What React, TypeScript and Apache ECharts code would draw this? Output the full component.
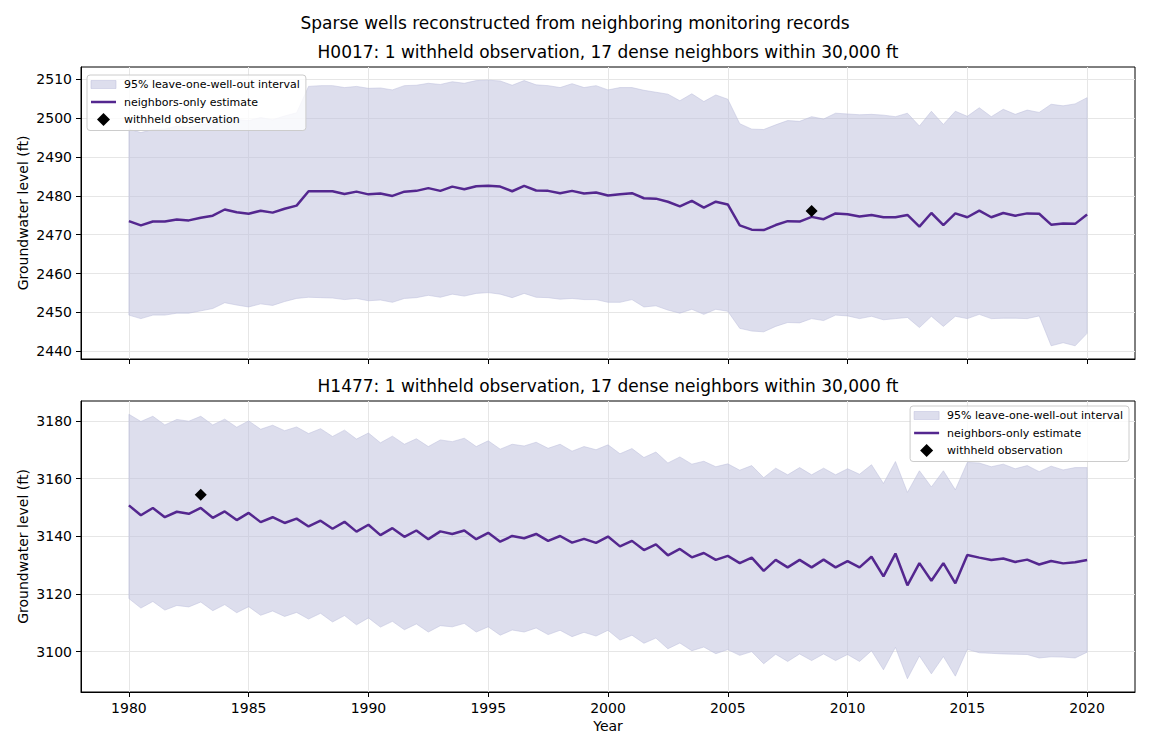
import React, { useEffect, useRef } from "react";
import * as echarts from "echarts";

// Half-yearly reconstruction dates
const YEARS = [
  1980, 1980.5, 1981, 1981.5, 1982, 1982.5, 1983, 1983.5, 1984, 1984.5,
  1985, 1985.5, 1986, 1986.5, 1987, 1987.5, 1988, 1988.5, 1989, 1989.5,
  1990, 1990.5, 1991, 1991.5, 1992, 1992.5, 1993, 1993.5, 1994, 1994.5,
  1995, 1995.5, 1996, 1996.5, 1997, 1997.5, 1998, 1998.5, 1999, 1999.5,
  2000, 2000.5, 2001, 2001.5, 2002, 2002.5, 2003, 2003.5, 2004, 2004.5,
  2005, 2005.5, 2006, 2006.5, 2007, 2007.5, 2008, 2008.5, 2009, 2009.5,
  2010, 2010.5, 2011, 2011.5, 2012, 2012.5, 2013, 2013.5, 2014, 2014.5,
  2015, 2015.5, 2016, 2016.5, 2017, 2017.5, 2018, 2018.5, 2019, 2019.5,
  2020,
];

// Well H0017
const H0017_EST = [
  2473.5, 2472.4, 2473.4, 2473.4, 2473.9, 2473.7, 2474.4, 2474.9, 2476.5, 2475.8,
  2475.4, 2476.2, 2475.7, 2476.7, 2477.5, 2481.2, 2481.2, 2481.2, 2480.5, 2481.1,
  2480.4, 2480.6, 2480.0, 2481.1, 2481.3, 2482.0, 2481.3, 2482.4, 2481.7, 2482.5,
  2482.6, 2482.4, 2481.2, 2482.6, 2481.4, 2481.3, 2480.7, 2481.3, 2480.6, 2480.9,
  2480.1, 2480.4, 2480.7, 2479.4, 2479.3, 2478.5, 2477.3, 2478.7, 2477.0, 2478.5,
  2477.8, 2472.4, 2471.3, 2471.2, 2472.5, 2473.5, 2473.4, 2474.6, 2474.0, 2475.5,
  2475.3, 2474.7, 2475.1, 2474.5, 2474.5, 2475.1, 2472.1, 2475.6, 2472.5, 2475.5,
  2474.5, 2476.2, 2474.5, 2475.6, 2474.9, 2475.5, 2475.4, 2472.6, 2472.9, 2472.8,
  2475.2,
];
const H0017_UPPER = [
  2497.2, 2496.3, 2497.1, 2497.2, 2498.0, 2497.6, 2498.4, 2498.8, 2500.5, 2499.7,
  2499.4, 2500.2, 2499.6, 2500.6, 2501.4, 2508.2, 2508.4, 2508.4, 2507.9, 2508.2,
  2507.7, 2507.8, 2507.3, 2508.4, 2508.5, 2509.0, 2508.7, 2509.4, 2509.0, 2509.7,
  2509.8, 2509.6, 2508.5, 2509.7, 2508.6, 2508.4, 2507.9, 2508.9, 2507.9, 2508.4,
  2507.3, 2507.9, 2507.9, 2507.2, 2506.7, 2506.2, 2504.5, 2506.3, 2504.3, 2506.0,
  2504.9, 2498.6, 2497.2, 2497.1, 2498.3, 2499.4, 2499.2, 2500.4, 2499.8, 2501.3,
  2501.1, 2500.9, 2501.0, 2500.8, 2500.4, 2501.3, 2498.0, 2501.8, 2498.4, 2501.8,
  2500.5, 2502.7, 2500.4, 2502.3, 2501.0, 2502.1, 2501.5, 2503.6, 2503.2, 2503.7,
  2505.3,
];
const H0017_LOWER = [
  2449.3, 2448.4, 2449.3, 2449.3, 2449.8, 2449.8, 2450.4, 2451.0, 2452.5, 2451.9,
  2451.4, 2452.2, 2451.8, 2452.8, 2453.6, 2453.9, 2453.8, 2453.7, 2453.3, 2453.6,
  2453.0, 2453.2, 2452.6, 2453.6, 2453.8, 2454.4, 2453.9, 2454.7, 2454.2, 2454.9,
  2455.1, 2454.7, 2453.8, 2454.9, 2453.9, 2453.8, 2453.4, 2453.6, 2453.3, 2453.3,
  2452.6, 2452.6, 2453.3, 2451.4, 2451.7, 2450.6, 2449.8, 2450.8, 2449.5, 2450.8,
  2450.3, 2445.9, 2445.2, 2445.0, 2446.4, 2447.4, 2447.3, 2448.4, 2447.9, 2449.3,
  2449.1, 2448.4, 2449.0, 2448.1, 2448.4, 2448.7, 2446.1, 2449.0, 2446.4, 2449.0,
  2448.4, 2449.5, 2448.4, 2448.5, 2448.5, 2448.4, 2449.1, 2441.4, 2442.2, 2441.4,
  2444.6,
];
const H0017_WITHHELD = [[2008.5, 2476.1]];

// Well H1477
const H1477_EST = [
  3150.7, 3147.3, 3149.8, 3146.6, 3148.5, 3147.8, 3149.8, 3146.4, 3148.6, 3145.6,
  3148.1, 3144.9, 3146.6, 3144.6, 3146.1, 3143.4, 3145.4, 3142.6, 3145.0, 3141.6,
  3144.0, 3140.4, 3142.8, 3139.8, 3142.0, 3139.0, 3141.7, 3140.8, 3142.0, 3139.0,
  3141.2, 3138.1, 3140.1, 3139.3, 3140.8, 3138.4, 3140.1, 3137.8, 3139.1, 3137.7,
  3139.9, 3136.5, 3138.4, 3135.2, 3137.2, 3133.4, 3135.6, 3132.7, 3134.2, 3131.8,
  3133.2, 3130.7, 3132.6, 3128.0, 3131.8, 3129.2, 3131.8, 3129.2, 3131.9, 3129.2,
  3131.4, 3129.2, 3132.9, 3126.1, 3134.0, 3123.0, 3130.7, 3124.6, 3130.7, 3123.7,
  3133.5, 3132.6, 3131.8, 3132.3, 3131.1, 3131.9, 3130.2, 3131.4, 3130.6, 3131.0,
  3131.8,
];
const H1477_UPPER = [
  3182.3, 3179.8, 3181.6, 3178.6, 3180.5, 3179.9, 3181.6, 3178.6, 3180.6, 3177.8,
  3180.0, 3177.1, 3178.5, 3176.6, 3177.9, 3175.6, 3177.3, 3174.6, 3176.8, 3173.7,
  3175.8, 3172.4, 3174.7, 3171.9, 3173.8, 3171.1, 3173.4, 3172.8, 3174.0, 3171.1,
  3173.1, 3170.2, 3171.9, 3171.3, 3172.6, 3170.5, 3171.9, 3169.5, 3171.1, 3170.0,
  3171.7, 3168.6, 3170.4, 3167.3, 3169.2, 3165.4, 3167.5, 3165.0, 3166.0, 3164.1,
  3165.1, 3162.9, 3164.5, 3160.3, 3163.6, 3161.3, 3163.8, 3161.3, 3163.6, 3161.3,
  3163.4, 3161.5, 3164.8, 3158.3, 3165.9, 3155.2, 3162.7, 3157.1, 3162.7, 3156.1,
  3165.6, 3165.4, 3164.1, 3165.0, 3163.4, 3164.5, 3162.4, 3164.3, 3163.0, 3163.8,
  3163.8,
];
const H1477_LOWER = [
  3118.4, 3115.1, 3117.4, 3114.4, 3116.0, 3115.5, 3117.2, 3114.2, 3116.3, 3113.5,
  3115.6, 3112.6, 3114.1, 3112.2, 3113.6, 3111.3, 3113.3, 3110.3, 3112.5, 3109.3,
  3111.7, 3108.5, 3110.5, 3107.6, 3109.6, 3106.8, 3109.0, 3108.6, 3109.8, 3106.8,
  3108.6, 3105.7, 3107.5, 3106.8, 3108.2, 3105.9, 3107.4, 3105.2, 3106.7, 3105.4,
  3107.4, 3104.0, 3105.7, 3102.9, 3104.7, 3101.0, 3103.0, 3100.3, 3101.6, 3099.3,
  3100.7, 3098.7, 3100.0, 3095.8, 3099.1, 3096.6, 3099.2, 3096.9, 3099.2, 3096.9,
  3099.0, 3096.6, 3100.3, 3093.7, 3101.5, 3090.6, 3098.5, 3092.3, 3098.3, 3091.5,
  3100.8, 3099.6, 3099.4, 3099.2, 3099.1, 3099.0, 3097.8, 3098.2, 3098.1, 3097.8,
  3099.8,
];
const H1477_WITHHELD = [[1983.0, 3154.4]];

// Tick labels
const X_TICKS = [1980, 1985, 1990, 1995, 2000, 2005, 2010, 2015, 2020];
const H0017_Y_TICKS = [2440, 2450, 2460, 2470, 2480, 2490, 2500, 2510];
const H1477_Y_TICKS = [3100, 3120, 3140, 3160, 3180];

const SUPTITLE = "Sparse wells reconstructed from neighboring monitoring records";
const H0017_TITLE = "H0017: 1 withheld observation, 17 dense neighbors within 30,000 ft";
const H1477_TITLE = "H1477: 1 withheld observation, 17 dense neighbors within 30,000 ft";

const BAND_NAME = "95% leave-one-well-out interval";
const EST_NAME = "neighbors-only estimate";
const OBS_NAME = "withheld observation";

const FONT = "DejaVu Sans";
const PURPLE = "#54278f";
const BAND = "rgba(188,189,220,0.5)";
const GRID_LINE = "#e6e6e6";

// Legend handles (paths keep their aspect inside the 25x13 icon box)
const ICON_PATCH = "path://M0,0 L25,0 L25,8 L0,8 Z";
const ICON_LINE = "path://M0,0 L25,0 L25,2.5 L0,2.5 Z";
const ICON_DIAMOND = "path://M6.5,0 L13,6.5 L6.5,13 L0,6.5 Z";

const plain = (v: number) => String(v);

function bandSeries(idx: number, lower: number[], upper: number[]) {
  return {
    type: "custom",
    name: BAND_NAME,
    xAxisIndex: idx,
    yAxisIndex: idx,
    clip: true,
    z: 1,
    itemStyle: { color: BAND },
    encode: { x: 0, y: [1, 2] },
    data: YEARS.map((yr, i) => [yr, lower[i], upper[i]]),
    renderItem: (params: any, api: any) => {
      if (params.dataIndex !== 0) return null;
      const pts: number[][] = [];
      for (let i = 0; i < YEARS.length; i++) pts.push(api.coord([YEARS[i], upper[i]]));
      for (let i = YEARS.length - 1; i >= 0; i--) pts.push(api.coord([YEARS[i], lower[i]]));
      return {
        type: "polygon",
        shape: { points: pts },
        style: { fill: BAND, stroke: BAND, lineWidth: 1 },
      };
    },
  };
}

function xAxisFor(idx: number, showLabels: boolean) {
  return {
    type: "value",
    gridIndex: idx,
    min: 1978,
    max: 2022,
    minInterval: 5,
    maxInterval: 5,
    splitNumber: 9,
    name: showLabels ? "Year" : "",
    nameLocation: "middle",
    nameGap: 27,
    nameMoveOverlap: false,
    nameTextStyle: { fontFamily: FONT, fontSize: 14, color: "#000" },
    axisLine: { show: true, onZero: false, lineStyle: { color: "#000", width: 1 } },
    axisTick: { show: true, length: 5, lineStyle: { color: "#000" }, customValues: X_TICKS },
    axisLabel: {
      show: showLabels,
      customValues: X_TICKS,
      formatter: plain,
      fontFamily: FONT,
      fontSize: 14,
      color: "#000",
      margin: 9,
    },
    splitLine: { show: true, lineStyle: { color: GRID_LINE, width: 1 } },
  };
}

function yAxisFor(idx: number, min: number, max: number, step: number, ticks: number[]) {
  return {
    type: "value",
    gridIndex: idx,
    min,
    max,
    minInterval: step,
    maxInterval: step,
    splitNumber: ticks.length,
    name: "Groundwater level (ft)",
    nameLocation: "middle",
    nameGap: 51,
    nameMoveOverlap: false,
    nameTextStyle: { fontFamily: FONT, fontSize: 14, color: "#000" },
    axisLine: { show: true, onZero: false, lineStyle: { color: "#000", width: 1 } },
    axisTick: { show: true, length: 5, lineStyle: { color: "#000" }, customValues: ticks },
    axisLabel: {
      customValues: ticks,
      formatter: plain,
      fontFamily: FONT,
      fontSize: 14,
      color: "#000",
      margin: 9,
    },
    splitLine: { show: true, lineStyle: { color: GRID_LINE, width: 1 } },
  };
}

function legendFor(pos: Record<string, number>) {
  return {
    orient: "vertical",
    ...pos,
    selectedMode: false,
    itemWidth: 25,
    itemHeight: 13,
    itemGap: 4.5,
    symbolKeepAspect: true,
    padding: [3, 6, 4.5, 3.5],
    backgroundColor: "rgba(255,255,255,0.8)",
    borderColor: "#cccccc",
    borderWidth: 1,
    borderRadius: 3,
    textStyle: { fontFamily: FONT, fontSize: 11, color: "#000", padding: [0, 0, 0, 3], lineHeight: 13 },
    data: [
      { name: BAND_NAME, icon: ICON_PATCH, itemStyle: { color: BAND, borderColor: BAND, borderWidth: 1 } },
      { name: EST_NAME, icon: ICON_LINE, itemStyle: { color: PURPLE, borderWidth: 0 } },
      { name: OBS_NAME, icon: ICON_DIAMOND, itemStyle: { color: "#000", opacity: 1, borderWidth: 0 } },
    ],
  };
}

function panelSeries(idx: number, est: number[], lower: number[], upper: number[], obs: number[][]) {
  return [
    bandSeries(idx, lower, upper),
    {
      type: "line",
      name: EST_NAME,
      xAxisIndex: idx,
      yAxisIndex: idx,
      data: YEARS.map((yr, i) => [yr, est[i]]),
      symbol: "none",
      z: 3,
      lineStyle: { color: PURPLE, width: 2.5 },
      itemStyle: { color: PURPLE },
    },
    {
      type: "scatter",
      name: OBS_NAME,
      xAxisIndex: idx,
      yAxisIndex: idx,
      data: obs,
      symbol: "diamond",
      symbolSize: 12,
      z: 4,
      itemStyle: { color: "#000", opacity: 1 },
    },
  ];
}

function titleText(text: string, x: number, y: number) {
  return {
    type: "text",
    x,
    y,
    silent: true,
    style: {
      text,
      fill: "#000",
      fontFamily: FONT,
      fontSize: 17,
      align: "center",
      verticalAlign: "middle",
      textAlign: "center",
      textVerticalAlign: "middle",
    },
  };
}

export default function App() {
  const ref = useRef<HTMLDivElement>(null);

  useEffect(() => {
    if (!ref.current) return;
    const chart = echarts.init(ref.current, undefined, { renderer: "svg" });
    chart.setOption({
      animation: false,
      backgroundColor: "#fff",
      textStyle: { fontFamily: FONT },
      grid: [
        { left: 81, right: 15, top: 67, height: 292, show: true, borderColor: "#000", borderWidth: 1, backgroundColor: "transparent" },
        { left: 81, right: 15, top: 401, height: 291, show: true, borderColor: "#000", borderWidth: 1, backgroundColor: "transparent" },
      ],
      xAxis: [xAxisFor(0, false), xAxisFor(1, true)],
      yAxis: [
        yAxisFor(0, 2438.0, 2513.2, 10, H0017_Y_TICKS),
        yAxisFor(1, 3086.0, 3186.9, 20, H1477_Y_TICKS),
      ],
      legend: [legendFor({ left: 87, top: 75 }), legendFor({ right: 21, top: 406 })],
      graphic: [
        titleText(SUPTITLE, 575, 23),
        titleText(H0017_TITLE, 608, 52),
        titleText(H1477_TITLE, 608, 386),
      ],
      series: [
        ...panelSeries(0, H0017_EST, H0017_LOWER, H0017_UPPER, H0017_WITHHELD),
        ...panelSeries(1, H1477_EST, H1477_LOWER, H1477_UPPER, H1477_WITHHELD),
      ],
    });
    return () => chart.dispose();
  }, []);

  return (
    <div
      ref={ref}
      style={{ position: "fixed", left: 0, top: 0, width: 1150, height: 750, background: "#fff" }}
    />
  );
}
